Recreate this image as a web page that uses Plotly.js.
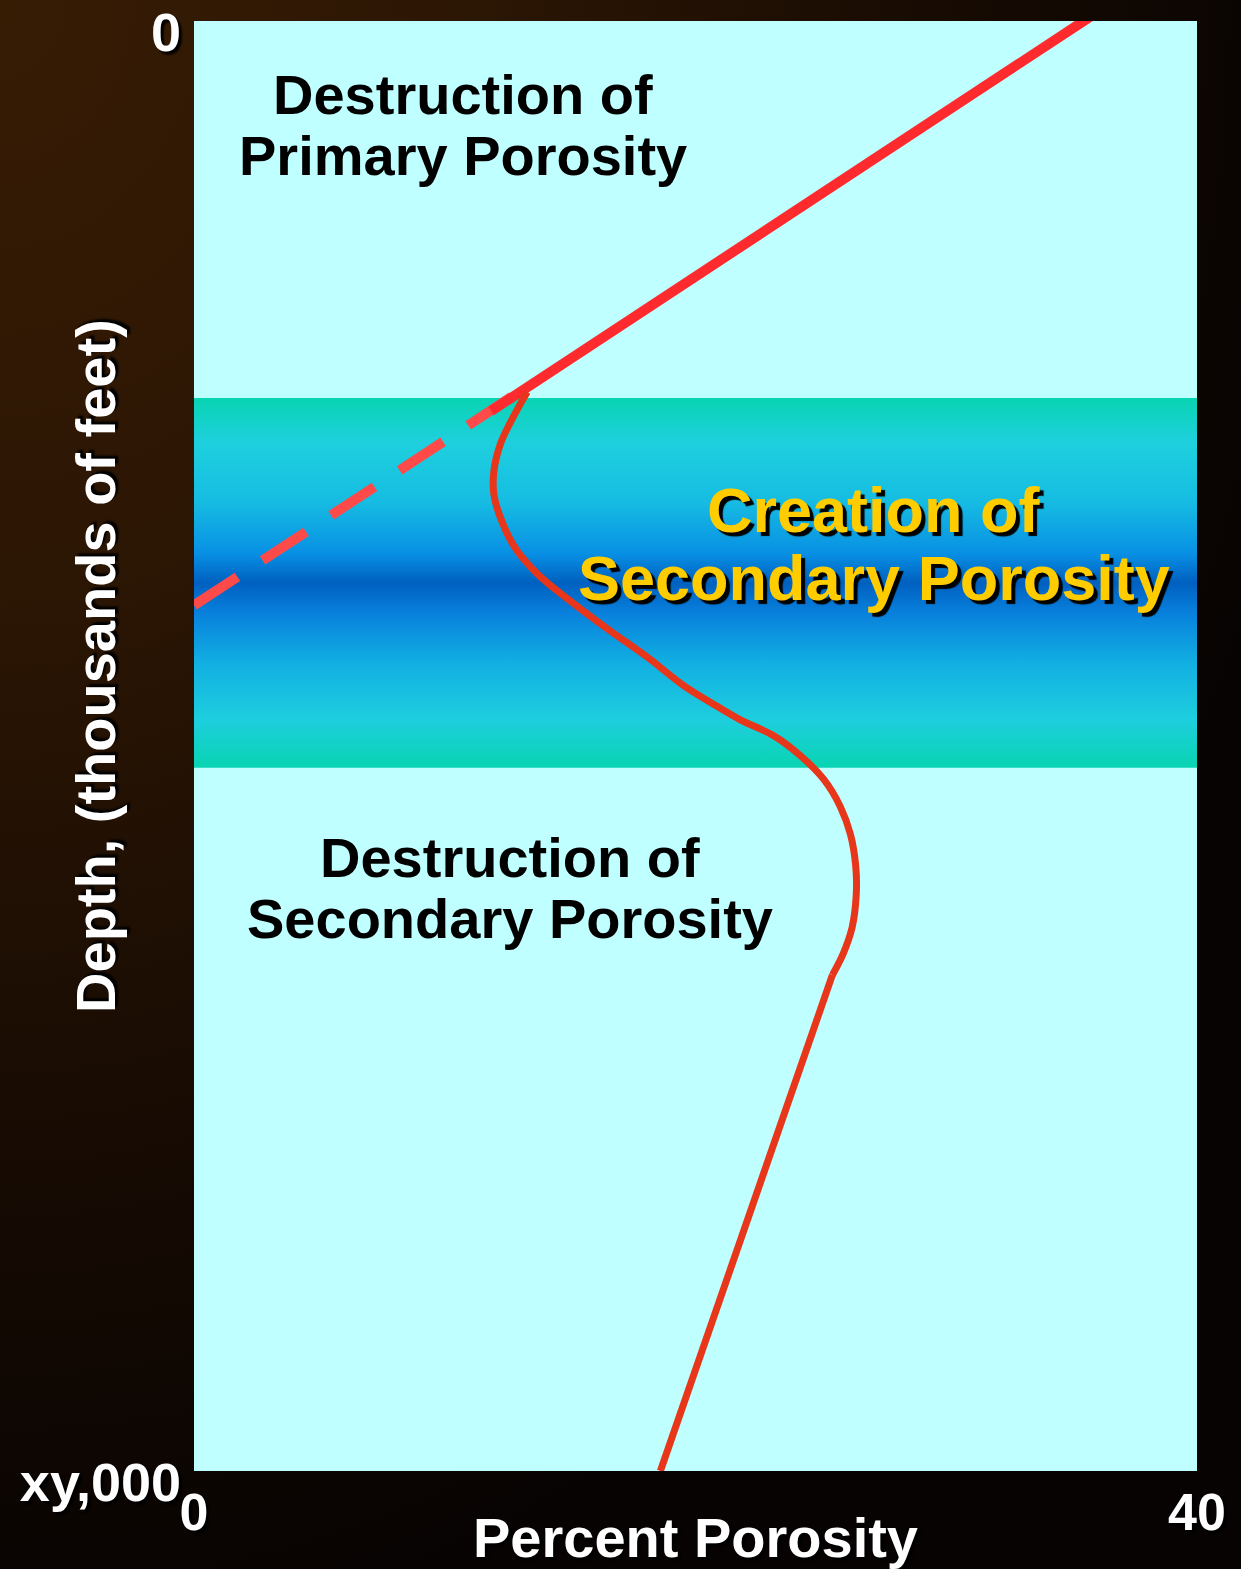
<!DOCTYPE html>
<html>
<head>
<meta charset="utf-8">
<script src="https://cdn.plot.ly/plotly-3.0.1.min.js"></script>
<style>
  html, body { margin: 0; padding: 0; }
  body {
    width: 1241px; height: 1569px; overflow: hidden;
    background: radial-gradient(ellipse 1350px 1650px at 0px 0px, #371c04 0%, #2c1604 35%, #170b03 70%, #070302 100%);
  }
  #chart { width: 1241px; height: 1569px; }
</style>
</head>
<body>
<div id="chart"></div>
<script>
// ---- data (percent porosity vs depth) ----
const xTickVals = [0, 40];
const xTickText = ['0', '40'];
const yTickVals = [0, 10];
const yTickText = ['0', 'xy,000'];

// depth zone of secondary porosity creation
const zoneDepths = [2.6, 5.15];
const zonePorosityExtent = [0, 40];

// primary porosity trend (solid part)
const primaryPorosity = [35.75, 11.85];
const primaryDepth = [-0.03, 2.69];

// extrapolated primary trend (dashed)
const extrapPorosity = [0, 13.3];
const extrapDepth = [4.03, 2.52];

// actual porosity curve through the secondary porosity zone
const curvePorosity = [13.29, 12.76, 12.23, 11.96, 11.96, 12.23, 12.76, 13.69, 15.02, 16.55, 18.10, 19.50, 20.70, 21.79, 23.12, 24.18, 25.11, 25.78, 26.18, 26.39, 26.41, 26.25, 25.90, 25.46];
const curveDepth    = [2.558, 2.721, 2.912, 3.103, 3.266, 3.430, 3.621, 3.812, 4.002, 4.200, 4.390, 4.580, 4.710, 4.820, 4.929, 5.066, 5.229, 5.420, 5.610, 5.828, 6.028, 6.248, 6.428, 6.579];

// deeper linear decline
const deepPorosity = [25.46, 18.6];
const deepDepth = [6.579, 10.0];

// ---- traces ----
const FONT = 'Liberation Sans, Arial, Helvetica, sans-serif';

const zoneTrace = {
  x: [zonePorosityExtent[0], zonePorosityExtent[1], zonePorosityExtent[1], zonePorosityExtent[0], zonePorosityExtent[0]],
  y: [zoneDepths[0], zoneDepths[0], zoneDepths[1], zoneDepths[1], zoneDepths[0]],
  type: 'scatter', mode: 'none', fill: 'toself', hoverinfo: 'skip', showlegend: false,
  fillcolor: '#0a8ad8',
  fillgradient: {
    type: 'vertical',
    start: zoneDepths[0], stop: zoneDepths[1],
    colorscale: [
      [0.00, '#08d4b2'],
      [0.12, '#1ed0de'],
      [0.28, '#16bce2'],
      [0.42, '#0890e4'],
      [0.50, '#0060c0'],
      [0.58, '#0880dc'],
      [0.72, '#12b0e2'],
      [0.87, '#1ecede'],
      [1.00, '#08d4b2']
    ]
  }
};

const extrapTrace = {
  x: extrapPorosity, y: extrapDepth, type: 'scatter', mode: 'lines',
  line: { color: '#ff4a4a', width: 10, dash: '52px,30px' },
  hoverinfo: 'skip', showlegend: false
};

const primaryTrace = {
  x: primaryPorosity, y: primaryDepth, type: 'scatter', mode: 'lines',
  line: { color: '#ff2a2e', width: 10 }, cliponaxis: false,
  hoverinfo: 'skip', showlegend: false
};

const curveTrace = {
  x: curvePorosity, y: curveDepth, type: 'scatter', mode: 'lines',
  line: { color: '#e8361a', width: 7, shape: 'spline', smoothing: 1 },
  hoverinfo: 'skip', showlegend: false
};

const deepTrace = {
  x: deepPorosity, y: deepDepth, type: 'scatter', mode: 'lines',
  line: { color: '#e8361a', width: 7 }, cliponaxis: false,
  hoverinfo: 'skip', showlegend: false
};

const whiteShadow = '3px 3px 2px #000000';

const layout = {
  width: 1241, height: 1569,
  margin: { l: 194, r: 44, t: 21, b: 98, pad: 0 },
  paper_bgcolor: 'rgba(0,0,0,0)',
  plot_bgcolor: '#c0ffff',
  showlegend: false,
  font: { family: FONT },
  xaxis: {
    range: [0, 40], tickvals: xTickVals, ticktext: xTickText,
    showgrid: false, zeroline: false, showline: false, ticks: '',
    ticklabelstandoff: 6,
    tickfont: { family: FONT, size: 52, color: '#ffffff', weight: 'bold', shadow: whiteShadow },
    title: { text: 'Percent Porosity', standoff: 0,
      font: { family: FONT, size: 56, color: '#ffffff', weight: 'bold', shadow: whiteShadow } },
    fixedrange: true
  },
  yaxis: {
    range: [10, 0], tickvals: yTickVals, ticktext: yTickText,
    showgrid: false, zeroline: false, showline: false, ticks: '',
    ticklabelstandoff: 12,
    ticklabeloverflow: 'allow',
    ticklabelshift: -11,
    tickfont: { family: FONT, size: 54, color: '#ffffff', weight: 'bold', shadow: whiteShadow },
    fixedrange: true
  },
  annotations: [
    { xref: 'paper', yref: 'paper', x: -0.098, y: 0.555, textangle: -90, showarrow: false,
      xanchor: 'center', yanchor: 'middle',
      text: 'Depth, (thousands of feet)',
      font: { family: FONT, size: 56, color: '#ffffff', weight: 'bold', shadow: whiteShadow } },

    { xref: 'x', yref: 'y', x: 10.72, y: 0.51, showarrow: false, text: 'Destruction of',
      font: { family: FONT, size: 56, color: '#000000', weight: 'bold' } },
    { xref: 'x', yref: 'y', x: 10.72, y: 0.93, showarrow: false, text: 'Primary Porosity',
      font: { family: FONT, size: 56, color: '#000000', weight: 'bold' } },

    { xref: 'x', yref: 'y', x: 27.1, y: 3.37, showarrow: false, text: 'Creation of',
      font: { family: FONT, size: 63, color: '#ffcc00', weight: 'bold', shadow: '4px 4px 1px #000000' } },
    { xref: 'x', yref: 'y', x: 27.1, y: 3.84, showarrow: false, text: 'Secondary Porosity',
      font: { family: FONT, size: 63, color: '#ffcc00', weight: 'bold', shadow: '4px 4px 1px #000000' } },

    { xref: 'x', yref: 'y', x: 12.59, y: 5.77, showarrow: false, text: 'Destruction of',
      font: { family: FONT, size: 56, color: '#000000', weight: 'bold' } },
    { xref: 'x', yref: 'y', x: 12.59, y: 6.19, showarrow: false, text: 'Secondary Porosity',
      font: { family: FONT, size: 56, color: '#000000', weight: 'bold' } }
  ]
};

Plotly.newPlot('chart', [zoneTrace, extrapTrace, primaryTrace, curveTrace, deepTrace], layout,
  { displayModeBar: false, staticPlot: true });
</script>
</body>
</html>
